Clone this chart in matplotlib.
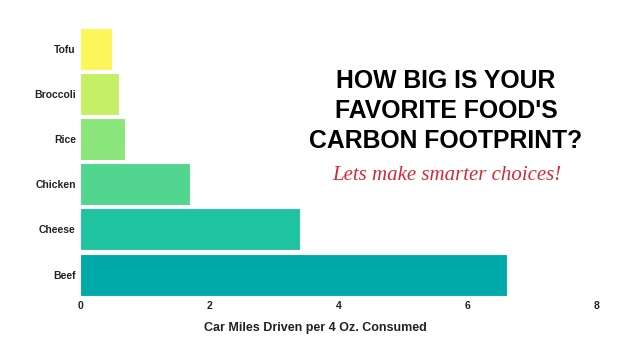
import matplotlib.pyplot as plt

foods = ["Tofu", "Broccoli", "Rice", "Chicken", "Cheese", "Beef"]
miles = [0.5, 0.6, 0.7, 1.7, 3.4, 6.6]
colors = ["#fdf65a", "#c5ef65", "#8ae57a", "#52d68f", "#20c3a0", "#00aaa8"]
xticks = [0, 2, 4, 6, 8]

plt.rcParams["font.family"] = ["Liberation Sans", "DejaVu Sans"]

fig = plt.figure(figsize=(6.36, 3.58), dpi=100)
ax = fig.add_axes([0.1258, 0.170, 0.8129, 0.757])

ypos = list(range(len(foods)))
ax.barh(ypos, miles, height=0.93, color=colors, edgecolor="white", linewidth=0.8)
ax.set_ylim(len(foods) - 0.5, -0.5)
ax.set_xlim(0, 8)
ax.set_yticks(ypos)
ax.set_yticklabels(foods, fontsize=7.5, fontweight="bold", color="#222222")
ax.set_xticks(xticks)
ax.set_xticklabels([str(t) for t in xticks], fontsize=7.5, fontweight="bold", color="#222222")
ax.tick_params(length=0, pad=3)
for s in ax.spines.values():
    s.set_visible(False)

ax.set_xlabel("Car Miles Driven per 4 Oz. Consumed", fontsize=9, fontweight="bold",
              color="#222222")
ax.xaxis.set_label_coords(0.456, -0.093)

fig.text(446 / 636, 1 - 111 / 358, "HOW BIG IS YOUR\nFAVORITE FOOD'S\nCARBON FOOTPRINT?",
         ha="center", va="center", fontsize=17.8, fontweight="bold", color="black",
         linespacing=1.3)
fig.text(447 / 636, 1 - 176 / 358, "Lets make smarter choices!", ha="center", va="center",
         fontsize=15, style="italic", family="Liberation Serif", color="#d42a35")

fig.savefig("out.png", dpi=100)
